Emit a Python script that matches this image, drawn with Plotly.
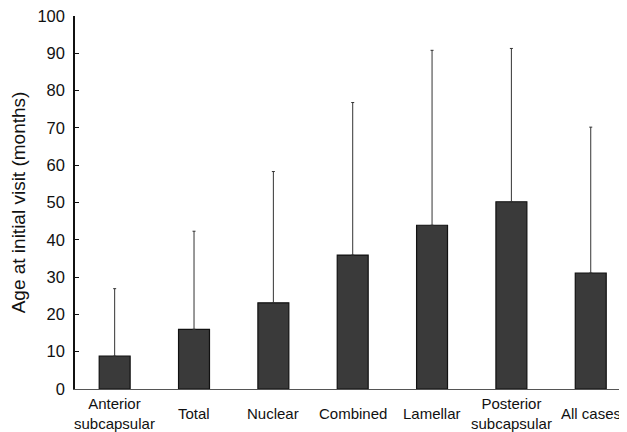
import plotly.graph_objects as go

categories = ["Anterior<br>subcapsular", "Total", "Nuclear", "Combined", "Lamellar", "Posterior<br>subcapsular", "All cases"]
mean_age = [8.8, 16.0, 23.1, 35.9, 43.9, 50.2, 31.1]
upper_sd = [18.1, 26.3, 35.2, 40.9, 46.9, 41.1, 39.1]
y_ticks = [0, 10, 20, 30, 40, 50, 60, 70, 80, 90, 100]

FONT = "Liberation Sans, Arial, sans-serif"
x_idx = list(range(len(categories)))

fig = go.Figure()
fig.add_trace(go.Bar(
    x=x_idx, y=mean_age, width=0.39,
    marker=dict(color="#3a3a3a", line=dict(color="#111111", width=1.2)),
    error_y=dict(type="data", symmetric=False, array=upper_sd, arrayminus=[0]*len(upper_sd),
                 color="#333333", thickness=1, width=1.5),
))

for i, c in enumerate(categories):
    fig.add_annotation(x=i, y=-0.066, xref="x", yref="paper", text=c, showarrow=False,
                       yanchor="middle", xanchor="center",
                       font=dict(family=FONT, size=15, color="#111111"))

# page body has an 8px margin, so the figure is sized to fit the remaining viewport
fig.update_layout(
    width=619, height=424,
    margin=dict(l=67, r=0, t=8, b=43, autoexpand=False),
    paper_bgcolor="white", plot_bgcolor="white",
    showlegend=False,
    font=dict(family=FONT, color="#111111"),
)
fig.update_xaxes(range=[-0.5, 6.457], showticklabels=False, ticks="",
                 showline=True, linecolor="#555555", linewidth=1.2,
                 showgrid=False, zeroline=False)
fig.update_yaxes(range=[0, 100], tickvals=y_ticks, ticks="inside", ticklen=4,
                 tickcolor="#111111", tickwidth=1, ticklabelstandoff=5,
                 ticklabeloverflow="allow",
                 showline=True, linecolor="#111111", linewidth=1.5,
                 showgrid=False, zeroline=False,
                 tickfont=dict(family=FONT, size=16.5, color="#111111"),
                 title=dict(text="Age at initial visit (months)", standoff=16,
                            font=dict(family=FONT, size=19, color="#111111")))

fig.write_html("out.html")
